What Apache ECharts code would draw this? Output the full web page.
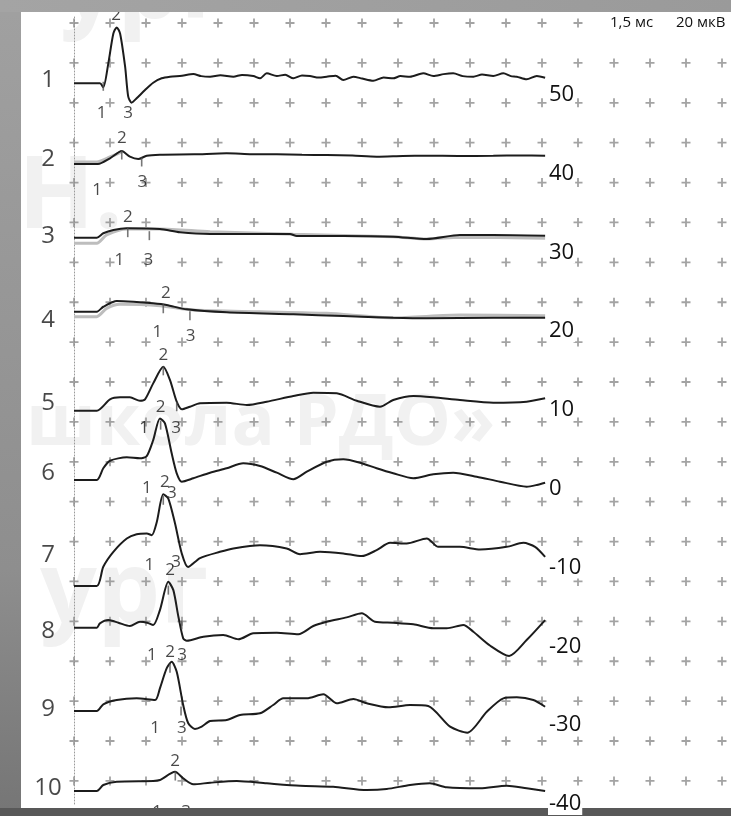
<!DOCTYPE html>
<html>
<head>
<meta charset="utf-8">
<script src="https://cdn.jsdelivr.net/npm/echarts@6/dist/echarts.min.js"></script>
<style>
html,body{margin:0;padding:0;background:#8f8f8f;}
#c{width:731px;height:816px;}
</style>
</head>
<body>
<div id="c"></div>
<script>
// ---- data (time in ms, amplitude in µV relative to each trace's baseline) ----
const traceNames = ['1','2','3','4','5','6','7','8','9','10'];
const traceNameY = [51.88, 41.85, 32.08, 21.42, 10.89, 2.01, -8.40, -18.05, -27.94, -37.97];
const traceOffsets = [51.46, 41.22, 31.87, 22.47, 9.91, 1.12, -12.34, -17.63, -28.20, -38.35];
const yTicks = [50, 40, 30, 20, 10, 0, -10, -20, -30, -40];

const trace1 = [[0,0],[1.08,0],[1.22,-2.0],[1.43,10.0],[1.64,25.0],[1.78,28.0],[1.92,25.0],[2.13,8.3],[2.26,-6.7],[2.40,-9.7],[2.61,-7.5],[2.96,-3.35],[3.30,0.3],[3.65,2.5],[4.0,3.3],[4.5,3.8],[4.97,4.65],[5.3,3.6],[5.67,3.3],[6.1,4.0],[6.64,3.3],[7.0,4.2],[7.47,3.65],[7.75,2.5],[8.03,5.0],[8.45,3.65],[8.8,4.3],[9.14,2.5],[9.5,3.9],[9.83,3.65],[10.2,2.9],[10.53,3.3],[10.9,3.8],[11.22,1.65],[11.64,3.3],[12.0,2.4],[12.47,1.3],[12.9,2.9],[13.30,2.5],[13.6,3.6],[14.0,3.3],[14.55,5.0],[14.97,3.65],[15.4,4.6],[15.80,5.0],[16.2,3.6],[16.64,3.3],[17.0,4.4],[17.47,3.65],[17.89,5.0],[18.2,3.6],[18.45,3.3],[18.86,2.0],[19.28,3.65],[19.63,2.8]];
const trace2 = [[0,0],[1.0,0],[1.5,2.85],[1.99,6.5],[2.33,3.65],[2.68,2.5],[3.03,4.15],[3.58,4.65],[5.0,4.85],[6.36,5.35],[7.4,4.9],[8.45,4.85],[9.5,4.6],[10.53,4.5],[11.6,4.2],[12.61,3.65],[13.7,4.0],[14.70,4.15],[16.0,4.0],[17.47,4.15],[18.6,4.3],[19.63,4.15]];
const trace3 = [[0,0],[0.95,0],[1.22,2.2],[1.64,3.85],[2.2,4.7],[3.58,4.35],[4.42,2.7],[5.67,1.85],[7.75,1.85],[9.0,1.85],[9.28,0.85],[11.22,0.85],[13.30,0.5],[14.70,-0.65],[16.08,1.35],[17.47,1.35],[19.63,1.0]];
const trace4 = [[0,0],[0.95,0],[1.22,2.5],[1.78,5.35],[2.47,5.0],[3.30,4.2],[3.86,3.35],[4.70,1.2],[6.36,-0.3],[9.14,-1.3],[11.22,-2.15],[13.30,-3.0],[14.70,-3.3],[17.47,-3.0],[19.63,-3.0]];
const trace5 = [[0,0],[0.95,0],[1.5,5.7],[1.92,6.7],[2.33,6.7],[2.75,5.0],[2.96,5.7],[3.30,13.7],[3.72,22.0],[4.0,15.35],[4.28,4.5],[4.49,0.7],[4.83,2.0],[5.25,3.7],[6.36,4.0],[7.20,2.85],[8.03,4.5],[9.14,7.35],[9.97,9.0],[10.95,8.7],[11.78,5.0],[12.75,2.0],[13.30,5.35],[14.14,7.35],[14.97,6.7],[16.08,5.35],[17.47,4.0],[18.86,4.5],[19.63,6.2]];
const trace6 = [[0,0],[0.95,0],[1.22,5.85],[1.5,9.65],[2.2,11.35],[2.75,10.85],[3.03,12.0],[3.30,20.0],[3.58,30.85],[3.79,28.35],[4.07,13.35],[4.28,3.35],[4.49,-0.85],[4.97,0.85],[5.67,3.65],[6.36,5.85],[7.05,8.35],[7.75,7.0],[8.45,3.65],[9.14,0.35],[9.70,4.15],[10.53,9.15],[11.22,10.35],[11.92,8.65],[12.61,5.85],[13.30,3.35],[14.14,0.85],[14.97,2.85],[15.80,3.65],[16.78,1.65],[17.75,-0.85],[18.86,-3.35],[19.28,-2.5],[19.63,-1.35]];
const trace7 = [[0,0],[0.95,0],[1.22,9.65],[1.64,17.15],[2.2,23.85],[2.61,26.0],[3.03,26.35],[3.24,25.5],[3.45,32.15],[3.72,46.0],[3.93,43.85],[4.21,31.35],[4.49,16.35],[4.75,9.5],[5.25,14.0],[6.08,17.15],[6.64,18.85],[7.75,20.5],[8.86,18.85],[9.42,16.0],[10.25,17.15],[11.22,16.35],[11.99,15.0],[12.61,18.0],[13.17,21.65],[13.86,21.35],[14.70,23.85],[15.18,19.65],[16.08,19.65],[16.92,18.35],[18.03,19.65],[18.72,21.65],[19.21,19.65],[19.63,14.65]];
const trace8 = [[0,0],[0.95,0],[1.08,2.2],[1.43,3.85],[1.85,2.5],[2.33,0.85],[2.75,3.0],[3.05,2.5],[3.30,1.35],[3.58,8.85],[3.93,23.0],[4.14,18.85],[4.35,5.5],[4.55,-5.3],[4.70,-6.5],[5.39,-4.5],[6.22,-3.65],[6.85,-5.8],[7.47,-2.8],[8.45,-2.5],[9.35,-3.3],[9.97,0.85],[10.53,3.0],[11.36,5.2],[11.99,7.2],[12.54,3.0],[13.30,2.5],[14.14,1.7],[14.97,-0.3],[15.53,-0.3],[16.22,1.35],[16.64,-2.0],[17.33,-8.9],[18.13,-14.15],[18.86,-6.15],[19.63,3.85]];
const trace9 = [[0,0],[0.95,0],[1.22,3.35],[1.78,5.5],[2.61,6.35],[3.38,5.5],[3.58,11.35],[3.86,21.35],[4.07,24.65],[4.28,19.65],[4.55,3.0],[4.76,-6.15],[5.04,-9.0],[5.32,-7.85],[5.67,-5.0],[6.36,-4.5],[6.92,-2.0],[7.75,-1.15],[8.30,3.0],[8.72,6.35],[9.70,6.35],[10.39,8.35],[10.95,3.85],[11.64,6.0],[12.20,3.85],[13.10,1.85],[14.0,3.0],[14.76,2.5],[15.67,-7.85],[16.39,-10.85],[17.20,-0.35],[17.89,6.35],[18.45,6.85],[19.14,5.5],[19.63,2.15]];
const trace10 = [[0,0],[0.95,0],[1.22,3.0],[1.78,4.65],[3.30,5.0],[3.58,5.5],[4.21,9.65],[4.55,6.35],[4.97,3.35],[5.67,4.15],[6.78,5.0],[8.03,3.85],[9.42,2.65],[10.80,2.15],[12.20,0.5],[13.03,1.0],[14.0,3.0],[14.83,3.85],[15.53,1.85],[16.92,1.35],[18.03,2.65],[18.86,1.35],[19.63,0]];

// second (gray) recordings
const grayTrace2 = [[0,1.0],[0.95,1.0],[1.5,3.5],[2.0,6.2]];
const grayTrace3 = [[0,-2.8],[0.95,-2.8],[1.36,1.35],[2.2,4.35],[3.58,4.35],[5.67,3.0],[9.14,1.7],[13.3,0.5],[14.7,-0.65],[16.08,0.2],[19.63,-0.3]];
const grayTrace4 = [[0,-2.5],[0.95,-2.5],[1.36,1.7],[1.92,3.7],[3.58,3.0],[4.97,0.85],[7.75,0],[10.53,-0.8],[13.3,-3.0],[16.08,-1.65],[19.63,-2.0]];

// latency markers [ms, µV] and their labels [ms, µV, text]
const ticks = [
  [[1.22,-1.5]],
  [[1.99,4.5],[2.82,1.0]],
  [[2.24,2.5],[3.14,1.0]],
  [[3.72,1.5],[4.83,-2.0]],
  [[3.72,20],[4.28,2.0]],
  [[3.61,27.5]],
  [[3.72,43]],
  [[3.93,18.85],[4.49,1.35]],
  [[4.0,21.5],[4.46,0]],
  [[4.22,7.5]]
];
const peakLabels = [
  [[1.15,-14.85,'1'],[1.75,34.15,'2'],[2.25,-14.85,'3']],
  [[0.96,-13,'1'],[1.99,12.85,'2'],[2.85,-9,'3']],
  [[1.89,-11.15,'1'],[2.24,10.5,'2'],[3.10,-11.15,'3']],
  [[3.47,-10,'1'],[3.83,9.2,'2'],[4.86,-12,'3']],
  [[2.92,-8.65,'1'],[3.72,27.85,'2'],[4.25,-8.65,'3']],
  [[3.04,-4.0,'1'],[3.61,36.5,'2'],[4.08,-6.5,'3']],
  [[3.14,10.5,'1'],[3.79,52,'2'],[4.25,12,'3']],
  [[3.24,-13.65,'1'],[4.0,28.85,'2'],[4.5,-13.65,'3']],
  [[3.38,-8.5,'1'],[4.0,29.5,'2'],[4.49,-8.5,'3']],
  [[3.46,-10.5,'1'],[4.21,15,'2'],[4.67,-10.5,'3']]
];

const traces = [trace1, trace2, trace3, trace4, trace5, trace6, trace7, trace8, trace9, trace10];
const grayTraces = [[1, grayTrace2], [2, grayTrace3], [3, grayTrace4]];

// display grid: 1.5 ms per column, 20 µV per row
const MS_PER_COL = 1.5, UV_PER_ROW = 20, N_COLS = 19, N_ROWS = 20, FIRST_ROW = 59.11;
const UV_TO_AXIS = 0.2531;

// ---- build ----
const toAxis = (arr, off) => arr.map(p => [p[0], off + p[1] * UV_TO_AXIS]);

const markerData = [];
for (let j = 0; j < N_ROWS; j++)
  for (let k = 0; k < N_COLS; k++)
    markerData.push([k * MS_PER_COL, FIRST_ROW - j * UV_PER_ROW * UV_TO_AXIS]);

const series = [];
series.push({
  type: 'scatter', data: markerData, symbol: 'path://M4,0H6V4H10V6H6V10H4V6H0V4H4Z',
  symbolSize: 9, itemStyle: {color: '#8c8c8c'}, z: 1, silent: true
});
grayTraces.forEach(([i, g]) => series.push({
  type: 'line', data: toAxis(g, traceOffsets[i]), showSymbol: false, smooth: 0.25,
  lineStyle: {color: '#bdbdbd', width: 3}, z: 2, silent: true
}));
traces.forEach((t, i) => series.push({
  type: 'line', data: toAxis(t, traceOffsets[i]), showSymbol: false, smooth: 0.25,
  lineStyle: {color: '#1c1c1c', width: 2}, z: 3, silent: true
}));
const tickData = [];
ticks.forEach((arr, i) => arr.forEach(p => tickData.push([p[0], traceOffsets[i] + p[1] * UV_TO_AXIS])));
series.push({
  type: 'scatter', data: tickData, symbol: 'rect', symbolSize: [1.6, 9],
  itemStyle: {color: '#555'}, z: 3, silent: true
});
const labelData = [];
peakLabels.forEach((arr, i) => arr.forEach(p => labelData.push({
  value: [p[0], traceOffsets[i] + p[1] * UV_TO_AXIS], name: p[2]
})));
series.push({
  type: 'scatter', data: labelData, symbolSize: 1, itemStyle: {color: 'transparent'},
  clip: false, z: 4, silent: true,
  label: {show: true, position: 'inside', formatter: '{b}', color: '#1a1a1a',
          fontFamily: 'Open Sans', fontSize: 17}
});
series.push({
  type: 'scatter', data: traceNames.map((n, i) => ({value: [-1.083, traceNameY[i]], name: n})),
  symbolSize: 1, itemStyle: {color: 'transparent'}, clip: false, z: 4, silent: true,
  label: {show: true, position: 'inside', formatter: '{b}', color: '#1a1a1a',
          fontFamily: 'Open Sans', fontSize: 24}
});

const wm = '#f1f1f1';
const option = {
  animation: false,
  backgroundColor: 'transparent',
  grid: {left: 74, right: 9, top: 16, bottom: 12},
  xAxis: {type: 'value', min: 0, max: 27, interval: MS_PER_COL, show: false},
  yAxis: [
    {type: 'value', min: -40, max: 60, interval: 10, position: 'left',
     axisLine: {show: true, lineStyle: {color: '#9a9a9a', width: 1, type: [1, 2]}},
     axisTick: {show: false}, axisLabel: {show: false}, splitLine: {show: false}},
    {type: 'value', min: -40, max: 60, interval: 10, position: 'right', offset: -176, z: 60,
     axisLine: {show: false}, axisTick: {show: false}, splitLine: {show: false},
     axisLabel: {show: true, showMaxLabel: false, margin: 2, color: '#111',
       fontFamily: 'Open Sans', fontSize: 22, backgroundColor: '#fff', padding: [0, 1],
       formatter: v => (yTicks.indexOf(v) >= 0 ? String(v) : '')}}
  ],
  graphic: [
    {type: 'rect', z: -100, shape: {x: 0, y: 0, width: 731, height: 816},
     style: {fill: {type: 'linear', x: 0, y: 0, x2: 0, y2: 1,
       colorStops: [{offset: 0, color: '#a2a2a2'}, {offset: 0.75, color: '#8a8a8a'}, {offset: 1, color: '#6a6a6a'}]}}},
    {type: 'rect', z: -90, shape: {x: 21, y: 12, width: 710, height: 796}, style: {fill: '#ffffff'}},
    {type: 'text', z: -80, x: 26, y: 388, style: {text: 'школа РДО»', fill: wm,
       font: 'bold 72px "Open Sans"'}},
    {type: 'text', z: -80, x: 18, y: 150, style: {text: 'Н.', fill: wm, font: 'bold 100px "Open Sans"'}},
    {type: 'text', z: -80, x: 40, y: 545, style: {text: 'ург', fill: wm, font: 'bold 100px "Open Sans"'}},
    {type: 'text', z: -80, x: 60, y: -60, style: {text: 'ург', fill: wm, font: 'bold 100px "Open Sans"'}},
    {type: 'rect', z: 50, shape: {x: 0, y: 0, width: 731, height: 12},
     style: {fill: {type: 'linear', x: 0, y: 0, x2: 1, y2: 0,
       colorStops: [{offset: 0, color: '#a4a4a4'}, {offset: 1, color: '#9a9a9a'}]}}},
    {type: 'rect', z: 50, shape: {x: 0, y: 808, width: 731, height: 8}, style: {fill: '#585858'}},
    {type: 'rect', z: 50, shape: {x: 0, y: 12, width: 21, height: 796},
     style: {fill: {type: 'linear', x: 0, y: 0, x2: 0, y2: 1,
       colorStops: [{offset: 0, color: '#a0a0a0'}, {offset: 0.7, color: '#8e8e8e'}, {offset: 1, color: '#767676'}]}}},
    {type: 'text', z: 40, x: 604, y: 23, style: {text: '1,5 мс', fill: '#111',
       font: '15px "Open Sans"', verticalAlign: 'middle', backgroundColor: '#fff', padding: [3, 6]}},
    {type: 'text', z: 40, x: 670, y: 23, style: {text: '20 мкВ', fill: '#111',
       font: '15px "Open Sans"', verticalAlign: 'middle', backgroundColor: '#fff', padding: [3, 6]}}
  ],
  series: series
};
const chart = echarts.init(document.getElementById('c'), null, {renderer: 'canvas'});
chart.setOption(option);
</script>
</body>
</html>
